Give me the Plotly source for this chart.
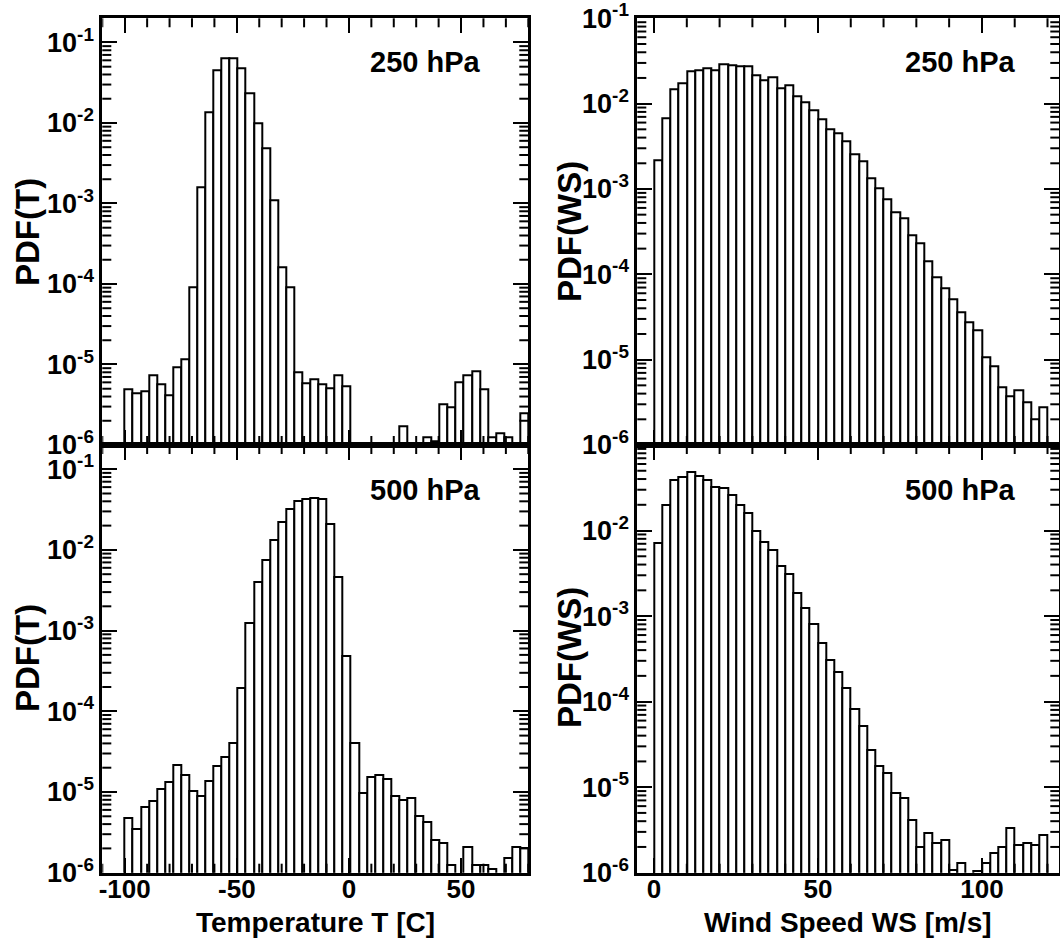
import math
import numpy as np
import plotly.graph_objects as go

# ---------------- data ----------------
T_BIN_START = -100.0
T_BIN_WIDTH = 3.6
WS_BIN_START = 0.0
WS_BIN_WIDTH = 2.5

pdf_T_250 = [4.9e-6, 4.4e-6, 4.6e-6, 7.4e-6, 5.7e-6, 4.2e-6, 9.1e-6, 1.17e-5, 9.1e-5, 1.6e-3,
             1.35e-2, 4.5e-2, 6.4e-2, 6.4e-2, 4.8e-2, 2.35e-2, 9.9e-3, 4.8e-3, 1.1e-3, 1.6e-4,
             9.1e-5, 7.9e-6, 5.9e-6, 6.6e-6, 5.6e-6, 5.1e-6, 7.4e-6, 5.4e-6, None, None,
             None, None, None, None, 1.7e-6, None, None, 1.23e-6, 1.1e-6, 3.24e-6,
             2.9e-6, 6.0e-6, 7.4e-6, 8.3e-6, 4.9e-6, 1.23e-6, 1.4e-6, 1.23e-6, None, 2.5e-6]

pdf_T_500 = [4.8e-6, 3.5e-6, 6.5e-6, 7.7e-6, 1.1e-5, 1.33e-5, 2.16e-5, 1.64e-5, 1.02e-5, 8.9e-6,
             1.38e-5, 2.1e-5, 2.7e-5, 4.0e-5, 1.97e-4, 1.24e-3, 4.0e-3, 7.6e-3, 1.32e-2, 2.2e-2,
             3.2e-2, 4.0e-2, 4.3e-2, 4.4e-2, 4.25e-2, 2.1e-2, 4.6e-3, 4.9e-4, 4.1e-5, 9.8e-6,
             1.55e-5, 1.64e-5, 1.47e-5, 8.9e-6, 7.9e-6, 8.5e-6, 5.0e-6, 4.2e-6, 2.57e-6, 2.35e-6,
             1.25e-6, None, 2.08e-6, 1.25e-6, 1.25e-6, 1.1e-6, None, 1.5e-6, 2.08e-6, 2.0e-6]

pdf_WS_250 = [2.17e-3, 6.7e-3, 1.48e-2, 1.74e-2, 2.37e-2, 2.43e-2, 2.6e-2, 2.43e-2, 2.86e-2, 2.8e-2,
              2.71e-2, 2.75e-2, 2.13e-2, 1.89e-2, 2.03e-2, 1.51e-2, 1.64e-2, 1.21e-2, 1.05e-2, 8.4e-3,
              6.6e-3, 5.0e-3, 4.5e-3, 3.6e-3, 2.55e-3, 2.11e-3, 1.34e-3, 1.03e-3, 7.6e-4, 5.4e-4,
              4.5e-4, 2.83e-4, 2.3e-4, 1.41e-4, 9.2e-5, 6.9e-5, 5.1e-5, 3.6e-5, 2.77e-5, 2.2e-5,
              1.06e-5, 8.3e-6, 4.7e-6, 3.74e-6, 4.4e-6, 3.18e-6, 2.0e-6, 2.73e-6]

pdf_WS_500 = [7.2e-3, 1.97e-2, 3.93e-2, 4.22e-2, 4.79e-2, 4.37e-2, 3.93e-2, 3.26e-2, 3.14e-2, 2.58e-2,
              2.0e-2, 1.62e-2, 1.0e-2, 7.3e-3, 6.0e-3, 3.8e-3, 3.1e-3, 1.84e-3, 1.24e-3, 8.1e-4,
              4.8e-4, 3.05e-4, 2.2e-4, 1.43e-4, 8.1e-5, 5.2e-5, 2.71e-5, 1.78e-5, 1.45e-5, 8.6e-6,
              7.5e-6, 4.1e-6, 2.0e-6, 2.88e-6, 2.2e-6, 2.4e-6, 1.07e-6, 1.3e-6, None, 1.05e-6,
              1.29e-6, 1.7e-6, 2.0e-6, 3.3e-6, 2.1e-6, 2.25e-6, 2.1e-6, 2.75e-6]

T_major_ticks = [-100, -50, 0, 50]
WS_major_ticks = [0, 50, 100]
level_labels = ["250 hPa", "500 hPa"]

# ---------------- figure ----------------
W, H = 1060, 939
FONT = "Liberation Sans"
TICK_FS = 26
YTICK_FS = 27

t_centers = T_BIN_START + T_BIN_WIDTH * (np.arange(len(pdf_T_250)) + 0.5)
ws_centers = WS_BIN_START + WS_BIN_WIDTH * (np.arange(len(pdf_WS_250)) + 0.5)

def px_x(a, b):
    return [a / W, b / W]

def px_y(top, bottom):
    return [1 - bottom / H, 1 - top / H]

dom_left = px_x(102.3, 528.3)
dom_right = px_x(637.3, 1059.3)
dom_top = px_y(18.3, 445.0)
dom_bot = px_y(445.0, 872.7)

T_RANGE = [-110, 80]
WS_RANGE = [-5.1, 123.6]
YL_RANGE = [-6, -0.7]
YR_RANGE = [-6, -1]

fig = go.Figure()

bar_style = dict(marker=dict(color="white", line=dict(color="black", width=2)), showlegend=False)

panels = [
    ("x", "y", t_centers, pdf_T_250, T_BIN_WIDTH),
    ("x2", "y2", ws_centers, pdf_WS_250, WS_BIN_WIDTH),
    ("x3", "y3", t_centers, pdf_T_500, T_BIN_WIDTH),
    ("x4", "y4", ws_centers, pdf_WS_500, WS_BIN_WIDTH),
]
for xa, ya, xc, vals, w in panels:
    fig.add_trace(go.Bar(x=xc, y=vals, width=w, xaxis=xa, yaxis=ya, **bar_style))

def sup(e):
    return "10<sup>-%d</sup>" % e

def xaxis(domain, rng, major, anchor, labels):
    return dict(
        domain=domain, range=rng, anchor=anchor, automargin=False,
        tickmode="array", tickvals=major, ticktext=[str(v) for v in major],
        showticklabels=labels, ticklabelstandoff=-9, ticklabeloverflow="allow",
        ticks="inside", ticklen=15, tickwidth=2, tickcolor="black",
        showline=True, linewidth=3, linecolor="black", mirror="ticks",
        showgrid=False, zeroline=False,
        tickfont=dict(family=FONT, size=TICK_FS, color="black", weight="bold"),
        fixedrange=True,
    )

def yaxis(domain, rng, exps, anchor):
    return dict(
        domain=domain, type="log", range=rng, anchor=anchor, automargin=False,
        tickmode="array", tickvals=[10.0 ** (-e) for e in exps], ticktext=[sup(e) for e in exps],
        ticklabeloverflow="allow",
        ticks="inside", ticklen=15, tickwidth=2, tickcolor="black",
        showline=True, linewidth=3, linecolor="black", mirror="ticks",
        showgrid=False, zeroline=False,
        tickfont=dict(family=FONT, size=YTICK_FS, color="black", weight="bold"),
        fixedrange=True,
    )

fig.update_layout(
    width=W, height=H,
    margin=dict(l=0, r=0, t=0, b=0, autoexpand=False),
    paper_bgcolor="white", plot_bgcolor="white",
    bargap=0,
    xaxis=xaxis(dom_left, T_RANGE, T_major_ticks, "y", False),
    xaxis2=xaxis(dom_right, WS_RANGE, WS_major_ticks, "y2", False),
    xaxis3=xaxis(dom_left, T_RANGE, T_major_ticks, "y3", True),
    xaxis4=xaxis(dom_right, WS_RANGE, WS_major_ticks, "y4", True),
    yaxis=yaxis(dom_top, YL_RANGE, [1, 2, 3, 4, 5, 6], "x"),
    yaxis2=yaxis(dom_top, [YR_RANGE[0], YR_RANGE[1] + 1e-4], [1, 2, 3, 4, 5, 6], "x2"),
    yaxis3=yaxis(dom_bot, YL_RANGE, [1, 2, 3, 4, 5, 6], "x3"),
    yaxis4=yaxis(dom_bot, YR_RANGE, [2, 3, 4, 5, 6], "x4"),
)

# ---- minor ticks (drawn as short inward marks on all four sides) ----
MINOR_LEN = 9
tick_line = dict(color="black", width=2)
shapes = []

def add_x_minor(xa, ya, rng, major):
    start = int(math.ceil(rng[0] / 10.0)) * 10
    for v in range(start, int(rng[1]) + 1, 10):
        if v in major:
            continue
        for side, d in ((0, MINOR_LEN), (1, -MINOR_LEN)):
            shapes.append(dict(type="line", layer="above", xref=xa, yref=ya + " domain",
                               x0=v, x1=v, ysizemode="pixel", yanchor=side, y0=0, y1=d,
                               line=tick_line))

def add_y_minor(xa, ya, rng):
    for e in range(-7, 0):
        for m in range(2, 10):
            lv = math.log10(m * 10.0 ** e)
            if lv <= rng[0] or lv >= rng[1]:
                continue
            f = (lv - rng[0]) / (rng[1] - rng[0])
            for side, d in ((0, MINOR_LEN), (1, -MINOR_LEN)):
                shapes.append(dict(type="line", layer="above", xref=xa + " domain", yref=ya + " domain",
                                   y0=f, y1=f, xsizemode="pixel", xanchor=side, x0=0, x1=d,
                                   line=tick_line))

add_x_minor("x", "y", T_RANGE, T_major_ticks)
add_x_minor("x3", "y3", T_RANGE, T_major_ticks)
add_x_minor("x2", "y2", WS_RANGE, WS_major_ticks)
add_x_minor("x4", "y4", WS_RANGE, WS_major_ticks)
add_y_minor("x", "y", YL_RANGE)
add_y_minor("x3", "y3", YL_RANGE)
add_y_minor("x2", "y2", YR_RANGE)
add_y_minor("x4", "y4", YR_RANGE)
fig.update_layout(shapes=shapes)

def ann(text, x, y, size, angle=0):
    fig.add_annotation(text="<b>%s</b>" % text, x=x / W, y=1 - y / H, xref="paper", yref="paper",
                       showarrow=False, textangle=angle, xanchor="center", yanchor="middle",
                       font=dict(family=FONT, size=size, color="black"))

ann(level_labels[0], 425, 62, 29)
ann(level_labels[0], 960, 62, 29)
ann(level_labels[1], 425, 490, 29)
ann(level_labels[1], 960, 490, 29)
ann("PDF(T)", 27, 232, 33, -90)
ann("PDF(T)", 27, 658, 33, -90)
ann("PDF(WS)", 569, 232, 33, -90)
ann("PDF(WS)", 569, 658, 33, -90)
ann("Temperature T [C]", 315, 922, 28)
ann("Wind Speed WS [m/s]", 848, 922, 28)

fig.write_html("out.html", config={"displayModeBar": False},
               post_script="document.body.style.margin='0';document.body.style.overflow='hidden';")
